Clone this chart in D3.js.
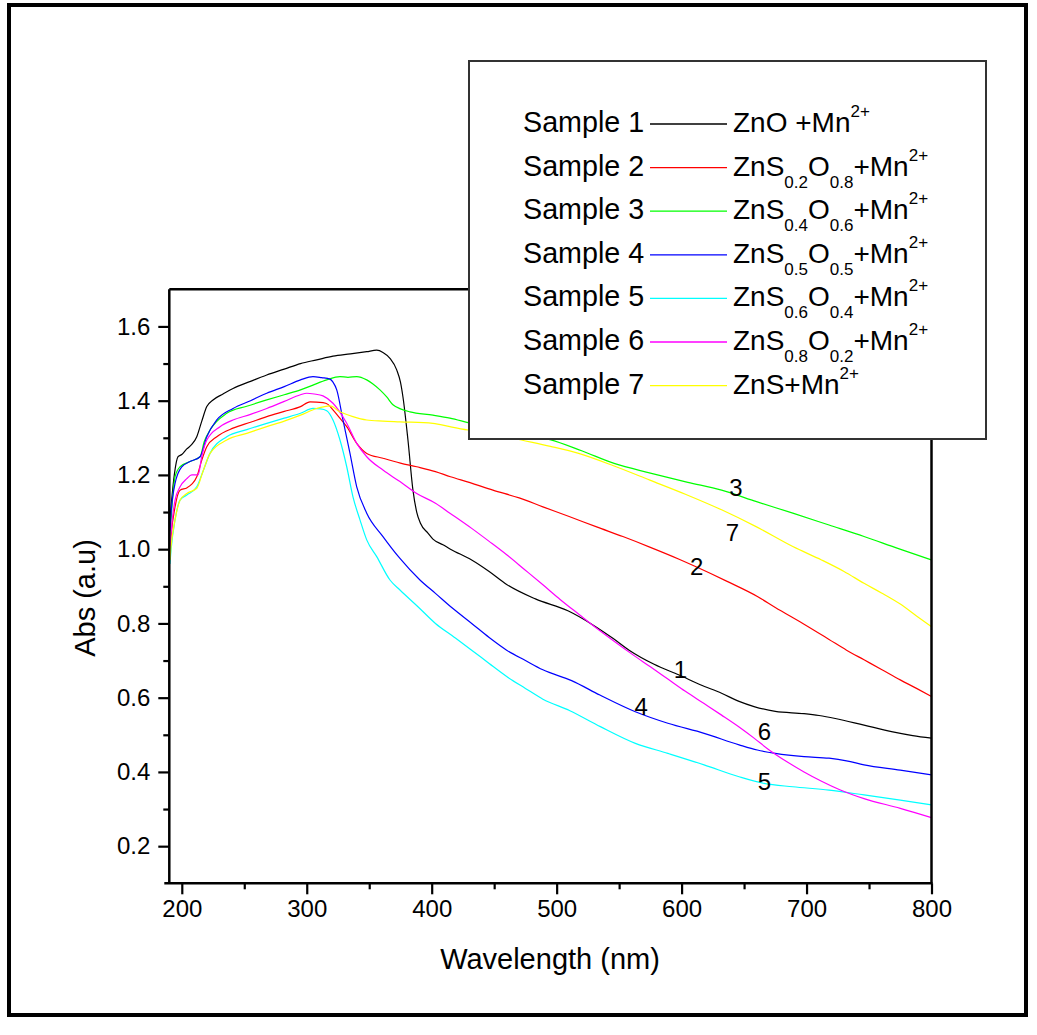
<!DOCTYPE html>
<html>
<head>
<meta charset="utf-8">
<script src="https://cdn.jsdelivr.net/npm/d3@7"></script>
<style>
  html, body { margin: 0; padding: 0; background: #fff; }
  svg text { font-family: "Liberation Sans", Arial, sans-serif; fill: #000; }
</style>
</head>
<body>
<svg id="chart" width="1037" height="1035"></svg>
<script>
// ---------------- DATA ----------------
const sampleNames = ["Sample 1","Sample 2","Sample 3","Sample 4","Sample 5","Sample 6","Sample 7"];
const seriesColors = ["#000000","#ff0000","#00ff00","#0000ff","#00ffff","#ff00ff","#ffff00"];
// legend formulas: [text, kind] kind: "" normal, "sub", "sup"
const formulas = [
  [["ZnO +Mn",""],["2+","sup"]],
  [["ZnS",""],["0.2","sub"],["O",""],["0.8","sub"],["+Mn",""],["2+","sup"]],
  [["ZnS",""],["0.4","sub"],["O",""],["0.6","sub"],["+Mn",""],["2+","sup"]],
  [["ZnS",""],["0.5","sub"],["O",""],["0.5","sub"],["+Mn",""],["2+","sup"]],
  [["ZnS",""],["0.6","sub"],["O",""],["0.4","sub"],["+Mn",""],["2+","sup"]],
  [["ZnS",""],["0.8","sub"],["O",""],["0.2","sub"],["+Mn",""],["2+","sup"]],
  [["ZnS+Mn",""],["2+","sup"]]
];
const xMajorTicks = [200,300,400,500,600,700,800];
const xMinorTicks = [250,350,450,550,650,750];
const yMajorTicks = [0.2,0.4,0.6,0.8,1.0,1.2,1.4,1.6];
const yMinorTicks = [0.3,0.5,0.7,0.9,1.1,1.3,1.5];

// [wavelength nm, absorbance]
const sample1 = [[190.5,1.08],[191.4,1.114],[194,1.20],[197,1.249],[200,1.255],[204,1.27],[208,1.282],[212,1.303],[216,1.345],[220,1.384],[225,1.402],[233,1.418],[241,1.433],[255,1.452],[268,1.469],[282,1.485],[295,1.500],[308,1.51],[321,1.520],[335,1.526],[348,1.532],[356,1.536],[361,1.53],[366.6,1.514],[372,1.483],[375,1.45],[377,1.41],[381,1.294],[385,1.159],[388,1.10],[391,1.07],[397,1.043],[401,1.027],[409,1.012],[415,1.00],[432,0.971],[446,0.94],[460,0.905],[483,0.866],[509,0.834],[529,0.796],[545,0.76],[558,0.728],[578,0.69],[598,0.661],[615,0.635],[632,0.612],[646,0.59],[658,0.576],[675,0.563],[698,0.557],[710,0.552],[723,0.544],[746,0.526],[769,0.508],[785,0.498],[800,0.491]];
const sample2 = [[190.5,0.99],[191.4,1.034],[194.6,1.114],[198.6,1.159],[204,1.165],[208,1.175],[212,1.195],[216,1.24],[220,1.276],[228,1.303],[241,1.326],[255,1.342],[268,1.357],[282,1.371],[295,1.384],[302.6,1.397],[313,1.395],[317,1.39],[321,1.375],[326,1.355],[332,1.330],[340,1.285],[348,1.258],[361,1.245],[375,1.232],[388,1.222],[403,1.209],[415,1.195],[430,1.18],[449,1.159],[470,1.138],[489,1.114],[510,1.088],[532,1.06],[553,1.034],[575,1.005],[598,0.973],[612,0.952],[636,0.914],[661,0.872],[675,0.843],[697,0.80],[718,0.757],[732,0.728],[746,0.702],[760,0.676],[775,0.648],[788,0.625],[800,0.603]];
const sample3 = [[190.5,1.03],[191.4,1.079],[194.6,1.195],[198.6,1.222],[206.6,1.236],[214.6,1.249],[218,1.29],[222.6,1.321],[236,1.366],[252,1.385],[268,1.402],[282,1.416],[295,1.429],[305,1.442],[316,1.456],[326.6,1.465],[333,1.463],[340,1.465],[348,1.456],[353,1.445],[358.6,1.429],[364,1.41],[369,1.389],[375,1.378],[382.6,1.370],[401,1.361],[414.6,1.353],[430,1.34],[450,1.325],[470,1.31],[494.6,1.295],[520,1.265],[546,1.231],[575,1.205],[605,1.18],[632,1.159],[660,1.128],[689,1.097],[718,1.065],[746,1.034],[773,1.002],[800,0.971]];
const sample4 = [[190.5,1.05],[191.4,1.097],[194.6,1.177],[200,1.222],[206.6,1.236],[214.6,1.249],[220,1.303],[228,1.348],[241,1.379],[255,1.40],[268,1.420],[282,1.438],[295,1.456],[305,1.465],[312,1.462],[318.6,1.458],[321,1.45],[324,1.429],[329,1.348],[334.6,1.258],[340,1.168],[348,1.097],[361,1.034],[374.6,0.975],[390.6,0.917],[403,0.881],[417,0.84],[432,0.800],[446,0.762],[460,0.728],[475,0.70],[489,0.675],[512,0.646],[534.6,0.607],[563,0.562],[589,0.531],[618,0.504],[646,0.473],[660.6,0.459],[675,0.450],[698,0.441],[718,0.437],[732,0.43],[746,0.419],[775,0.405],[800,0.392]];
const sample5 = [[190.5,0.96],[191.4,0.998],[194.6,1.079],[198.6,1.132],[204,1.146],[212,1.168],[217,1.21],[222.6,1.258],[236,1.303],[252,1.322],[268,1.339],[282,1.353],[295,1.366],[305,1.379],[311,1.378],[316,1.373],[321,1.348],[326.6,1.294],[332,1.222],[337,1.141],[342.6,1.079],[348,1.025],[356,0.980],[366.6,0.917],[374.6,0.890],[389,0.845],[403,0.800],[418,0.763],[432,0.728],[446,0.692],[460,0.657],[475,0.625],[489,0.596],[510.6,0.565],[535,0.522],[563,0.477],[589,0.450],[618,0.419],[646,0.387],[666,0.369],[689,0.360],[718,0.351],[746,0.338],[775,0.324],[800,0.311]];
const sample6 = [[190.5,1.0],[191.4,1.043],[194.6,1.132],[198.6,1.168],[204,1.19],[208,1.2],[213,1.2],[216,1.25],[220,1.294],[230.6,1.330],[241,1.348],[255,1.363],[268,1.379],[282,1.398],[295,1.416],[300,1.420],[306,1.418],[313,1.413],[321,1.393],[332,1.339],[340,1.285],[348,1.249],[361,1.213],[374.6,1.182],[388,1.150],[403,1.124],[414.6,1.097],[432,1.056],[446,1.021],[460,0.985],[474,0.946],[489,0.904],[503,0.864],[518,0.824],[532,0.787],[546,0.752],[560,0.718],[575,0.683],[589,0.650],[603,0.617],[618,0.584],[632,0.553],[646,0.521],[658,0.491],[669,0.462],[684,0.428],[698,0.400],[712,0.375],[726.6,0.352],[746,0.328],[775,0.302],[800,0.277]];
const sample7 = [[190.5,0.97],[191.4,1.007],[194.6,1.079],[198.6,1.132],[204,1.150],[212,1.164],[217,1.21],[222.6,1.258],[236,1.294],[252,1.312],[268,1.330],[282,1.345],[295,1.361],[308,1.379],[318.6,1.386],[326.6,1.370],[337,1.357],[348,1.348],[361,1.345],[374.6,1.343],[401,1.339],[414.6,1.330],[429,1.321],[450,1.31],[471.8,1.294],[495,1.277],[517.6,1.258],[546,1.224],[574.6,1.186],[603,1.148],[632,1.106],[660,1.06],[689,1.007],[712,0.971],[730,0.94],[746,0.908],[760,0.882],[775,0.852],[788,0.82],[800,0.791]];
const allSeries = [sample1,sample2,sample3,sample4,sample5,sample6,sample7];

// curve number labels: [text, wavelength, absorbance]
const curveLabels = [["1",599,0.675],["2",612,0.952],["3",643.5,1.165],["4",567.6,0.576],["5",666.3,0.374],["6",666.3,0.508],["7",640.6,1.044]];

// ---------------- DRAW ----------------
const svg = d3.select("#chart");
const x = d3.scaleLinear().domain([190,800]).range([169.3,931.5]);
const y = d3.scaleLinear().domain([0.1,1.7]).range([883.3,289.3]);

// outer frame
svg.append("rect").attr("x",9).attr("y",5).attr("width",1017).attr("height",1010)
  .attr("fill","none").attr("stroke","#000").attr("stroke-width",4);

svg.append("clipPath").attr("id","clip").append("rect")
  .attr("x",x(190)).attr("y",y(1.7)).attr("width",x(800)-x(190)).attr("height",y(0.1)-y(1.7));

const line = d3.line().x(d=>x(d[0])).y(d=>y(d[1])).curve(d3.curveMonotoneX);
const gLines = svg.append("g").attr("clip-path","url(#clip)");
allSeries.forEach((s,i)=>{
  gLines.append("path").datum(s).attr("d",line).attr("fill","none")
    .attr("stroke",seriesColors[i]).attr("stroke-width",1.2);
});

// axes
function styleAxis(g){
  g.select(".domain").remove();
  g.selectAll(".tick line").attr("stroke","#000").attr("stroke-width",2.2);
  g.selectAll(".tick text").style("font-size","24px").style("font-family","Liberation Sans, Arial, sans-serif");
}
const gx = svg.append("g").attr("transform",`translate(0,${y(0.1)})`)
  .call(d3.axisBottom(x).tickValues(xMajorTicks).tickSize(11).tickPadding(6).tickFormat(d3.format("d")));
styleAxis(gx);
const gxm = svg.append("g").attr("transform",`translate(0,${y(0.1)})`)
  .call(d3.axisBottom(x).tickValues(xMinorTicks).tickSize(6).tickFormat(""));
styleAxis(gxm);
const gy = svg.append("g").attr("transform",`translate(${x(190)},0)`)
  .call(d3.axisLeft(y).tickValues(yMajorTicks).tickSize(11).tickPadding(8).tickFormat(d3.format(".1f")));
styleAxis(gy);
const gym = svg.append("g").attr("transform",`translate(${x(190)},0)`)
  .call(d3.axisLeft(y).tickValues(yMinorTicks).tickSize(6).tickFormat(""));
styleAxis(gym);

// plot frame
const fw = 2.5;
svg.append("line").attr("x1",x(190)-5).attr("x2",x(800)+1).attr("y1",y(0.1)).attr("y2",y(0.1)).attr("stroke","#000").attr("stroke-width",fw);
svg.append("line").attr("x1",x(190)).attr("x2",x(190)).attr("y1",y(1.7)).attr("y2",y(0.1)).attr("stroke","#000").attr("stroke-width",fw);
svg.append("line").attr("x1",x(190)).attr("x2",x(800)).attr("y1",y(1.7)).attr("y2",y(1.7)).attr("stroke","#000").attr("stroke-width",fw);
svg.append("line").attr("x1",x(800)).attr("x2",x(800)).attr("y1",y(1.7)).attr("y2",y(0.1)).attr("stroke","#000").attr("stroke-width",fw);

// curve number labels
svg.append("g").selectAll("text").data(curveLabels).join("text")
  .attr("x",d=>x(d[1])).attr("y",d=>y(d[2])+8.5)
  .attr("text-anchor","middle").style("font-size","24px").text(d=>d[0]);

// axis titles
svg.append("text").attr("x",550).attr("y",969).attr("text-anchor","middle")
  .style("font-size","29px").text("Wavelength (nm)");
svg.append("text").attr("transform","translate(95,598) rotate(-90)").attr("text-anchor","middle")
  .style("font-size","29px").text("Abs (a.u)");

// legend
const lg = svg.append("g");
lg.append("rect").attr("x",469).attr("y",61).attr("width",517).attr("height",378)
  .attr("fill","#fff").attr("stroke","#333").attr("stroke-width",2);
sampleNames.forEach((name,i)=>{
  const by = 132 + i*43.6;
  lg.append("text").attr("x",523).attr("y",by).style("font-size","28.7px").text(name);
  lg.append("line").attr("x1",650).attr("x2",727).attr("y1",by-8).attr("y2",by-8)
    .attr("stroke",seriesColors[i]).attr("stroke-width",1.3);
  const t = lg.append("text").attr("x",733).attr("y",by).style("font-size","28px");
  let cur = 0;
  formulas[i].forEach(([txt,kind])=>{
    let target = kind==="sub" ? 12 : kind==="sup" ? -15 : 0;
    const ts = t.append("tspan").attr("dy",target-cur).text(txt);
    if(kind) ts.style("font-size","17px");
    cur = target;
  });
});
</script>
</body>
</html>
